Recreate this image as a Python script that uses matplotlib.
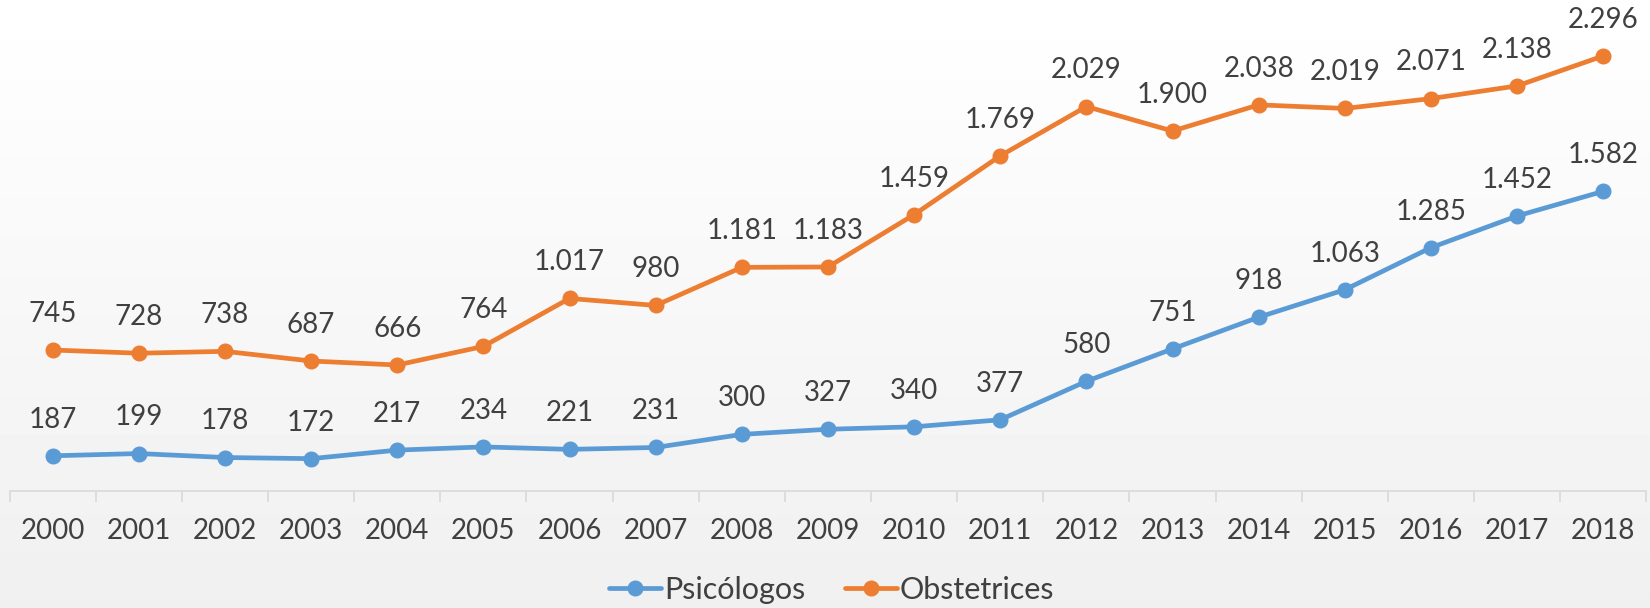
import numpy as np
import matplotlib
matplotlib.use('Agg')
import matplotlib.pyplot as plt

# data
years = [str(y) for y in range(2000, 2019)]
psicologos = [187, 199, 178, 172, 217, 234, 221, 231, 300, 327, 340, 377,
              580, 751, 918, 1063, 1285, 1452, 1582]
obstetrices = [745, 728, 738, 687, 666, 764, 1017, 980, 1181, 1183, 1459, 1769,
               2029, 1900, 2038, 2019, 2071, 2138, 2296]

plt.rcParams['font.family'] = ['Lato', 'DejaVu Sans']
txt_col = '#404040'

fig = plt.figure(figsize=(16.5, 6.08), dpi=100)

# faint background gradient
bg = fig.add_axes([0, 0, 1, 1], zorder=-10)
g = np.linspace(0, 1, 200).reshape(-1, 1)
bg.imshow(1 - 0.06 * g, cmap='gray', vmin=0, vmax=1, aspect='auto', extent=[0, 1, 0, 1])
bg.axis('off')

ax = fig.add_axes([0.0058, 0.192, 0.992, 0.808])
ax.patch.set_alpha(0)
x = np.arange(len(years))

series = [('Psicólogos', psicologos, '#5B9BD5'), ('Obstetrices', obstetrices, '#ED7D31')]
for name, vals, col in series:
    ax.plot(x, vals, color=col, lw=3.4, marker='o', ms=10.5, label=name, solid_capstyle='round')
    for xi, v in zip(x, vals):
        lab = '{:,}'.format(v).replace(',', '.')
        ax.annotate(lab, (xi, v), xytext=(0, 26), textcoords='offset points',
                    ha='center', va='center', fontsize=20, color=txt_col)

ax.set_xlim(-0.5, len(years) - 0.5)
ax.set_ylim(0, 2591)
ax.set_yticks([])
for s in ['top', 'right', 'left']:
    ax.spines[s].set_visible(False)
ax.spines['bottom'].set_color('#d9d9d9')
ax.spines['bottom'].set_linewidth(1.2)

ax.set_xticks(np.arange(-0.5, len(years), 1), minor=False)
ax.set_xticklabels([])
ax.tick_params(axis='x', which='major', length=8, color='#d9d9d9', width=1.2)
ax.set_xticks(x, minor=True)
ax.set_xticklabels(years, minor=True)
ax.tick_params(axis='x', which='minor', length=0, pad=19, labelsize=20, labelcolor=txt_col)

leg = fig.legend(loc='center', bbox_to_anchor=(0.504, 0.03), ncol=2, frameon=False,
                 fontsize=22, handlelength=1.7, handletextpad=0.1, columnspacing=1.3)
for t in leg.get_texts():
    t.set_color(txt_col)

fig.savefig('out.png', dpi=100)
